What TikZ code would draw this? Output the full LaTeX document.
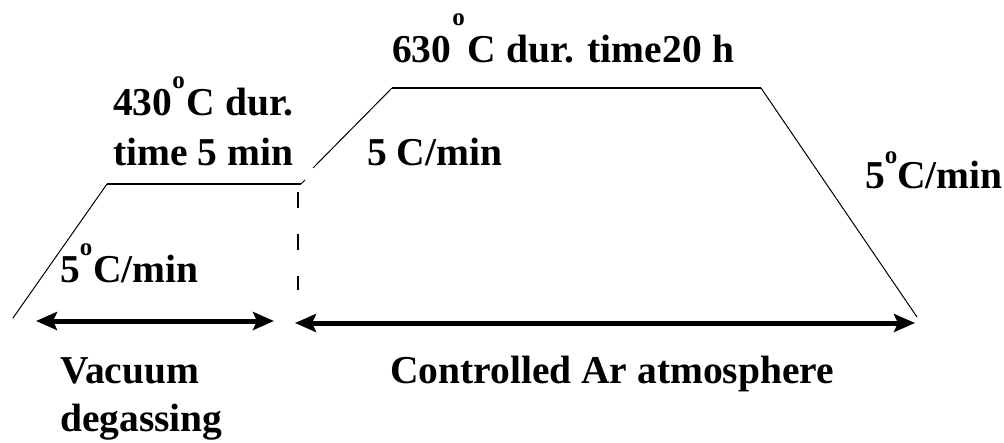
\documentclass[tikz,border=0pt]{standalone}
\usepackage{fontspec}
\setmainfont{Liberation Serif}
\usetikzlibrary{arrows.meta}
\newcommand\degsup[1]{\raisebox{#1}{\fontsize{25}{25}\selectfont o}}
\begin{document}
\begin{tikzpicture}[x=1pt,y=-1pt,
  lbl/.style={font=\fontsize{39.5}{48}\selectfont\bfseries, inner sep=0pt, anchor=base west},
  ramp/.style={line width=1pt},
  plateau/.style={line width=2pt},
  span/.style={line width=5pt, {Stealth[length=21pt,width=18pt,inset=4pt]}-{Stealth[length=21pt,width=18pt,inset=4pt]}},
  sep/.style={line width=2pt, dash pattern=on 16pt off 26pt}]
\useasboundingbox (0,0) rectangle (1004,442);
% profile points
\coordinate (p0) at (13,318);
\coordinate (p1) at (107,184);
\coordinate (p2) at (301,184);
\coordinate (t1) at (305,180);
\coordinate (p3) at (313,168);
\coordinate (p4) at (392,88);
\coordinate (p5) at (761,88);
\coordinate (p6) at (917,317);
\draw[ramp] (p0) -- (p1);
\draw[plateau] (p1) -- (p2);
\draw[ramp] (p2) -- (t1);
\draw[ramp] (p3) -- (p4);
\draw[plateau] (p4) -- (p5);
\draw[ramp] (p5) -- (p6);
% separator
\coordinate (d0) at (298,192);
\coordinate (d1) at (298,290);
\draw[sep] (d0) -- (d1);
% spans
\coordinate (a0) at (36,321);
\coordinate (a1) at (274,321);
\coordinate (b0) at (295,323);
\coordinate (b1) at (915,323);
\draw[span] (a0) -- (a1);
\draw[span] (b0) -- (b1);
% labels
\node[lbl] (l1) at (113,115) {430\degsup{27pt}\hspace{2pt}C dur.};
\node[lbl] (l2) at (113,165) {time 5 min};
\node[lbl] (l3) at (60,282) {5\degsup{27pt}\hspace{1pt}C/min};
\node[lbl] (l4) at (367,165) {5 C/min};
\node[lbl] (l5) at (392,62) {630\hspace{1pt}\degsup{37pt}\hspace{3pt}C dur. time\hspace{1pt}20 h};
\node[lbl] (l6) at (865,188) {5\degsup{25pt}C/min};
\node[lbl] (l7) at (60,383) {Vacuum};
\node[lbl] (l8) at (60,431) {degassing};
\node[lbl] (l9) at (390,383) {Controlled Ar atmosphere};
\end{tikzpicture}
\end{document}
